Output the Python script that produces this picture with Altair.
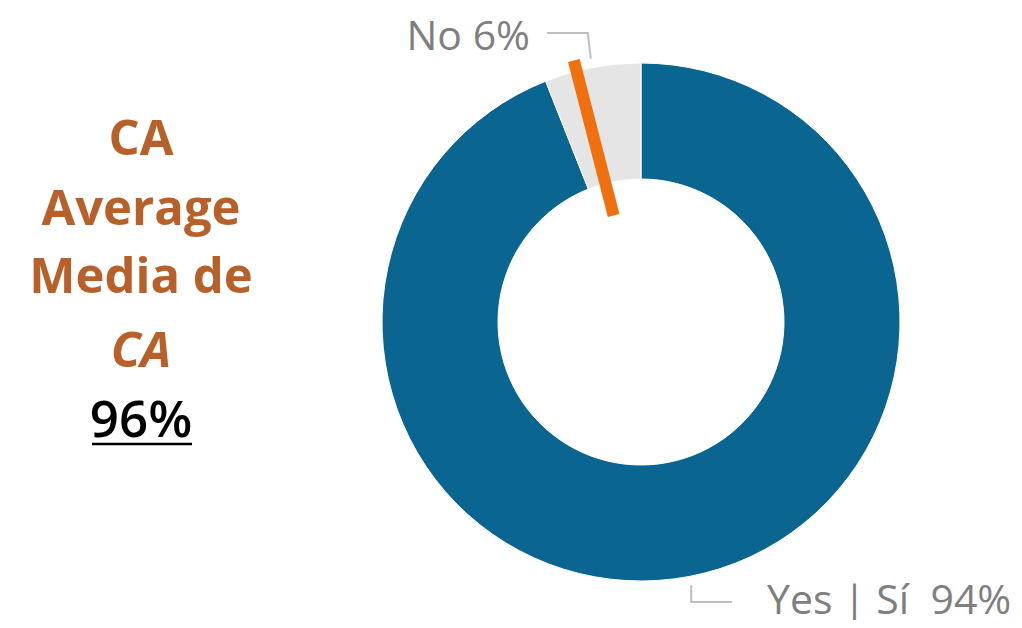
import math
import altair as alt
import pandas as pd

# ---- data ----
categories = ["Yes | Sí", "No"]
values = [94, 6]
ca_average = 96
left_lines = ["CA", "Average", "Media de"]
left_italic = ["CA"]

# ---- style / layout ----
BLUE = "#0b6591"
GREY = "#e5e5e5"
ORANGE = "#f07010"
BROWN = "#b8602a"
LABEL_GREY = "#7f7f7f"
LEADER = "#bfbfbf"
FONT = "Open Sans"
W, H = 1006, 612
R_OUT, R_IN = 259, 143
xs = alt.Scale(domain=[-633, 373], nice=False, zero=False)
ys = alt.Scale(domain=[-298, 314], nice=False, zero=False)

# slices
starts, ends, acc = [], [], 0
for v in values:
    starts.append(acc)
    acc += v
    ends.append(acc)
slices = pd.DataFrame({"label": categories, "value": values, "start": starts,
                       "end": ends, "cx": [0, 0], "cy": [0, 0]})

arcs = alt.Chart(slices).mark_arc(radius=R_OUT, radius2=R_IN, stroke="white", strokeWidth=1).encode(
    x=alt.X("cx:Q", scale=xs, axis=None),
    y=alt.Y("cy:Q", scale=ys, axis=None),
    theta=alt.Theta("start:Q", scale=alt.Scale(domain=[0, 100], range=[0, 2 * math.pi]), stack=False),
    theta2="end:Q",
    color=alt.Color("label:N", scale=alt.Scale(domain=categories, range=[BLUE, GREY]), legend=None),
)

# average marker (radial bar at the average position)
ang = 2 * math.pi * ca_average / 100
marker = pd.DataFrame({"x": [110 * math.sin(ang)], "y": [110 * math.cos(ang)],
                       "x2": [270 * math.sin(ang)], "y2": [270 * math.cos(ang)]})
marker_rule = alt.Chart(marker).mark_rule(color=ORANGE, strokeWidth=12).encode(
    x=alt.X("x:Q", scale=xs, axis=None), y=alt.Y("y:Q", scale=ys, axis=None),
    x2="x2:Q", y2="y2:Q")

# leaders: start at slice mid-angle just outside ring, then elbow, then horizontal
elbow_y = [-280, 289]
end_x = [91, -94]
rows = []
for i, (s, e) in enumerate(zip(starts, ends)):
    a = 2 * math.pi * (s + e) / 2 / 100
    sx, sy = 268 * math.sin(a), 268 * math.cos(a)
    pts = [(sx, sy), (sx - (3 if i == 1 else 0), elbow_y[i]), (end_x[i], elbow_y[i])]
    for k, (px, py) in enumerate(pts):
        rows.append({"label": categories[i], "k": k, "x": px, "y": py})
leaders = alt.Chart(pd.DataFrame(rows)).mark_line(color=LEADER, strokeWidth=2).encode(
    x=alt.X("x:Q", scale=xs, axis=None), y=alt.Y("y:Q", scale=ys, axis=None),
    detail="label:N", order="k:Q")

NBSP = "\u00a0"
lab = pd.DataFrame({"text": [f"{categories[0]}{NBSP}{NBSP}{values[0]}%", f"{categories[1]} {values[1]}%"],
                    "x": [126, -111], "y": [-292, 272]})
lab_yes = alt.Chart(lab.iloc[[0]]).mark_text(font=FONT, fontSize=41, color=LABEL_GREY, align="left",
                                              baseline="alphabetic").encode(
    x=alt.X("x:Q", scale=xs, axis=None), y=alt.Y("y:Q", scale=ys, axis=None), text="text:N")
lab_no = alt.Chart(lab.iloc[[1]]).mark_text(font=FONT, fontSize=41, color=LABEL_GREY, align="right",
                                             baseline="alphabetic").encode(
    x=alt.X("x:Q", scale=xs, axis=None), y=alt.Y("y:Q", scale=ys, axis=None), text="text:N")

# left annotation
left_df = pd.DataFrame({"text": left_lines, "x": [-500] * 3, "y": [167, 97, 29]})
left_bold = alt.Chart(left_df).mark_text(font=FONT, fontSize=49, fontWeight="bold", color=BROWN,
                                         baseline="alphabetic").encode(
    x=alt.X("x:Q", scale=xs, axis=None), y=alt.Y("y:Q", scale=ys, axis=None), text="text:N")
ital_df = pd.DataFrame({"text": left_italic, "x": [-500], "y": [-45]})
left_ital = alt.Chart(ital_df).mark_text(font=FONT, fontSize=49, fontWeight="bold", fontStyle="italic",
                                         color=BROWN, baseline="alphabetic").encode(
    x=alt.X("x:Q", scale=xs, axis=None), y=alt.Y("y:Q", scale=ys, axis=None), text="text:N")
avg_df = pd.DataFrame({"text": [f"{ca_average}%"], "x": [-500], "y": [-115]})
avg_text = alt.Chart(avg_df).mark_text(font=FONT, fontSize=51, fontWeight=600, color="black",
                                       baseline="alphabetic").encode(
    x=alt.X("x:Q", scale=xs, axis=None), y=alt.Y("y:Q", scale=ys, axis=None), text="text:N")
ul_df = pd.DataFrame({"x": [-549], "x2": [-449], "y": [-122]})
underline = alt.Chart(ul_df).mark_rule(color="black", strokeWidth=2.5).encode(
    x=alt.X("x:Q", scale=xs, axis=None), x2="x2:Q", y=alt.Y("y:Q", scale=ys, axis=None))

chart = alt.layer(arcs, marker_rule, leaders, lab_yes, lab_no, left_bold, left_ital, avg_text, underline).properties(
    width=W, height=H, autosize=alt.AutoSizeParams(type="none"), padding=0, background="white"
).configure_view(stroke=None)

chart.save("out.html", embed_options={"renderer": "svg", "actions": False})
